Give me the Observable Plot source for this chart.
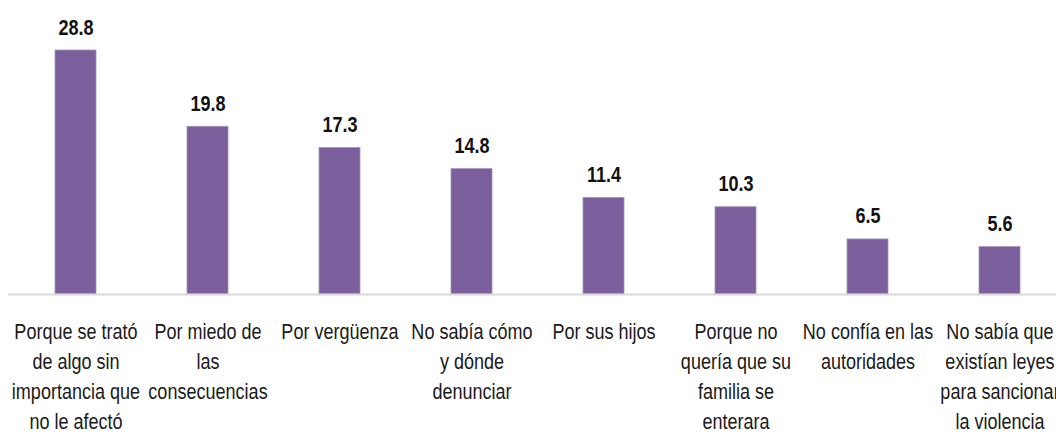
<!DOCTYPE html>
<html>
<head>
<meta charset="utf-8">
<script src="https://cdn.jsdelivr.net/npm/d3@7"></script>
<script src="https://cdn.jsdelivr.net/npm/@observablehq/plot@0.6"></script>
<style>
  html, body { margin: 0; padding: 0; background: #ffffff; }
  #chart svg { display: block; }
</style>
</head>
<body>
<div id="chart"></div>
<script>
const categories = [
  "Porque se trató\nde algo sin\nimportancia que\nno le afectó",
  "Por miedo de\nlas\nconsecuencias",
  "Por vergüenza",
  "No sabía cómo\ny dónde\ndenunciar",
  "Por sus hijos",
  "Porque no\nquería que su\nfamilia se\nenterara",
  "No confía en las\nautoridades",
  "No sabía que\nexistían leyes\npara sancionar\nla violencia"
];
const values = [28.8, 19.8, 17.3, 14.8, 11.4, 10.3, 6.5, 5.6];

const data = categories.map((c, i) => ({category: c, value: values[i]}));
const font = "'Liberation Sans', Arial, sans-serif";

const chart = Plot.plot({
  width: 1056,
  height: 438,
  marginLeft: 8,
  marginRight: 0,
  marginTop: 0,
  marginBottom: 144,
  style: {fontFamily: font, background: "#ffffff"},
  x: {domain: categories, range: [7.8, 1067.2], paddingInner: 0.687, paddingOuter: 0.3435, axis: null},
  y: {domain: [0, 28.8], range: [294, 50], axis: null},
  marks: [
    Plot.barY(data, {x: "category", y: "value", fill: "#7B5F9C", stroke: "#A795BE", strokeWidth: 0.8}),
    Plot.ruleY([0], {stroke: "#D9D9D9", strokeWidth: 2}),
    Plot.text(data, {x: "category", y: "value", text: d => d.value.toFixed(1), dy: -16, lineAnchor: "bottom",
      fontSize: 22, fontWeight: "bold", fill: "#111111"}),
    Plot.text(data, {x: "category", y: () => 0, text: "category", dy: 23, lineAnchor: "top",
      lineHeight: 1.364, fontSize: 22, fill: "#1a1a1a"})
  ]
});
// Narrow the glyphs horizontally (Arial Narrow look), keeping text as real text
chart.querySelectorAll('g[aria-label="text"] text').forEach(t => {
  const tr = t.getAttribute("transform");
  if (tr) {
    t.setAttribute("transform", tr + " scale(0.82,1)");
  } else {
    const x = +(t.getAttribute("x") || 0);
    t.setAttribute("transform", `translate(${x},0) scale(0.82,1) translate(${-x},0)`);
  }
});
document.getElementById("chart").appendChild(chart);
</script>
</body>
</html>
